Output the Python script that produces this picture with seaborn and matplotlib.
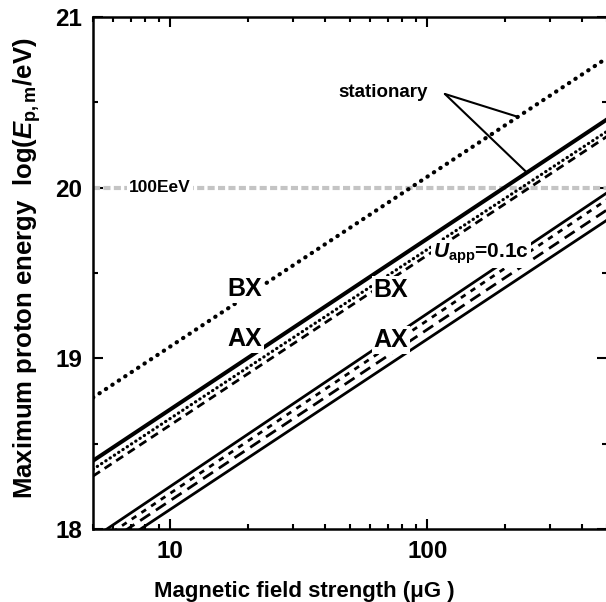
import numpy as np
import matplotlib
matplotlib.use("Agg")
import matplotlib.pyplot as plt
import matplotlib.ticker as mticker
import seaborn as sns

# --------------------------------
# DATA
# --------------------------------

b_field = [5, 500]                      # µG, ends of the plotted range

stat_bx = [18.77, 20.76]                # stationary, BX (dotted)
stat_ax = [18.40, 20.40]                # stationary, AX (thick solid)

mov_bx_dot = [18.35, 20.33]             # U_app = 0.1c, BX
mov_bx_dash = [18.31, 20.30]

mov_ax_1 = [17.945, 19.97]              # U_app = 0.1c, AX
mov_ax_2 = [17.905, 19.93]
mov_ax_3 = [17.865, 19.87]
mov_ax_4 = [17.815, 19.81]

limit_energy = 20.0                     # 100 EeV

x_ticks = [10, 100]
x_ticklabels = ["10", "100"]
y_ticks = [18, 19, 20, 21]
y_ticklabels = ["18", "19", "20", "21"]


def on_line(vals, b):
    f = (np.log10(b) - np.log10(b_field[0])) / (np.log10(b_field[1]) - np.log10(b_field[0]))
    return vals[0] + (vals[1] - vals[0]) * f


# --------------------------------
# STYLE
# --------------------------------

sns.set_theme(style="ticks")
plt.rcParams["font.family"] = ["Liberation Sans", "DejaVu Sans"]
plt.rcParams["font.weight"] = "bold"
plt.rcParams["mathtext.fontset"] = "custom"
plt.rcParams["mathtext.rm"] = "Liberation Sans:bold"
plt.rcParams["mathtext.it"] = "Liberation Sans:bold:italic"
plt.rcParams["mathtext.bf"] = "Liberation Sans:bold"
for k in ["text.color", "axes.labelcolor", "xtick.color", "ytick.color", "axes.edgecolor"]:
    plt.rcParams[k] = "black"

fig = plt.figure(figsize=(6.06, 6.02), dpi=100)
ax = fig.add_axes([93 / 606, 1 - 529 / 602, 514 / 606, 512 / 602])

# --------------------------------
# LINES
# --------------------------------

dot_big = (0, (0.1, 1.75))
dot_small = (0, (0.1, 1.5))

series = [
    (stat_bx, 3.0, dot_big, "round"),
    (stat_ax, 2.9, "-", "butt"),
    (mov_bx_dot, 2.3, dot_small, "round"),
    (mov_bx_dash, 2.0, (0, (3.0, 2.0)), "butt"),
    (mov_ax_1, 2.0, "-", "butt"),
    (mov_ax_2, 2.0, (0, (2.0, 2.2)), "butt"),
    (mov_ax_3, 2.0, (0, (4.3, 2.5)), "butt"),
    (mov_ax_4, 2.0, "-", "butt"),
]

for vals, lw, ls, cap in series:
    sns.lineplot(x=b_field, y=vals, ax=ax, color="black", lw=lw,
                 linestyle=ls, dash_capstyle=cap, zorder=2)

ax.axhline(limit_energy, color="#c4c4c4", lw=3.0, dashes=(1.7, 0.8), zorder=1)

# --------------------------------
# AXES
# --------------------------------

ax.set_xscale("log")
ax.set_xlim(b_field[0], b_field[1])
ax.set_ylim(18, 21)

ax.xaxis.set_major_locator(mticker.FixedLocator(x_ticks))
ax.xaxis.set_major_formatter(mticker.FixedFormatter(x_ticklabels))
ax.xaxis.set_minor_locator(mticker.LogLocator(base=10, subs=np.arange(2, 10)))
ax.xaxis.set_minor_formatter(mticker.NullFormatter())
ax.yaxis.set_major_locator(mticker.FixedLocator(y_ticks))
ax.yaxis.set_major_formatter(mticker.FixedFormatter(y_ticklabels))
ax.yaxis.set_minor_locator(mticker.MultipleLocator(0.5))

ax.tick_params(which="both", direction="in", top=True, right=True, width=1.5, color="black")
ax.tick_params(which="major", length=7, labelsize=17.5, pad=8)
ax.tick_params(which="minor", length=3.5)
for s in ax.spines.values():
    s.set_linewidth(1.8)

ax.set_xlabel("Magnetic field strength (μG )", fontsize=16, fontweight="bold")
ax.xaxis.set_label_coords(0.412, -0.102)
ax.set_ylabel(r"Maximum proton energy  log($E_{\rm p,m}$/eV)", fontsize=18.5, fontweight="bold")
ax.yaxis.set_label_coords(-0.098, 0.51)

# --------------------------------
# ANNOTATIONS
# --------------------------------

box = dict(facecolor="white", edgecolor="none", pad=1.5)

ax.text(9.1, limit_energy, "100EeV", fontsize=12.5, ha="center", va="center", bbox=box, zorder=3)

ax.text(19.5, 19.406, "BX", fontsize=18, ha="center", va="center", bbox=box, zorder=3)
ax.text(19.5, 19.113, "AX", fontsize=18, ha="center", va="center", bbox=box, zorder=3)
ax.text(72.2, 19.400, "BX", fontsize=18, ha="center", va="center", bbox=box, zorder=3)
ax.text(72.2, 19.107, "AX", fontsize=18, ha="center", va="center", bbox=box, zorder=3)
ax.text(105, 19.611, r"$U_{\rm app}$=0.1c", fontsize=15, ha="left", va="center", bbox=box, zorder=3)

ax.text(67.2, 20.555, "stationary", fontsize=13.5, ha="center", va="center", zorder=3)
vertex = (117, 20.549)
for vals, b in [(stat_bx, 225), (stat_ax, 244)]:
    ax.annotate("", xy=(b, on_line(vals, b)), xytext=vertex,
                arrowprops=dict(arrowstyle="-", lw=1.5, color="black", shrinkA=0, shrinkB=0))

fig.canvas.draw()
for lbl in ax.get_xticklabels() + ax.get_yticklabels():
    lbl.set_fontweight("bold")

fig.savefig("out.png", dpi=100)
